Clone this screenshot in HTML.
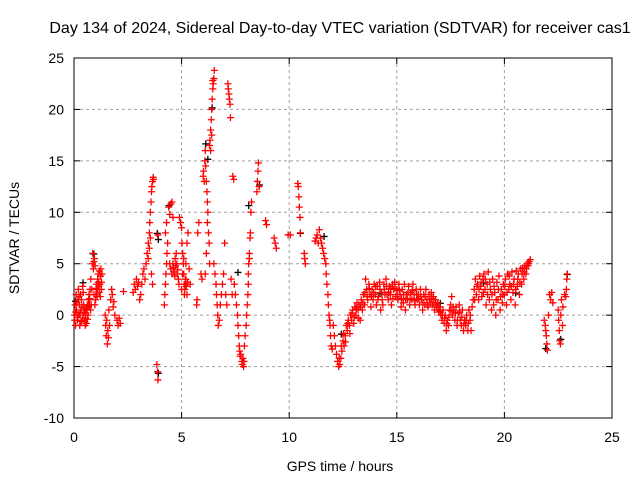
<!DOCTYPE html>
<html><head><meta charset="utf-8"><style>
body{margin:0;background:#fff;}
svg text{font-family:"Liberation Sans",sans-serif;font-size:14px;fill:#000;}
</style></head><body>
<svg id="chart" width="640" height="480">
<text x="340" y="33" text-anchor="middle" style="font-size:16px">Day 134 of 2024, Sidereal Day-to-day VTEC variation (SDTVAR) for receiver cas1</text>
<g id="grid"></g>
<g id="axes"></g>
<g id="marks"></g>
<text x="340" y="471" text-anchor="middle">GPS time / hours</text>
<text transform="translate(19,238) rotate(-90)" text-anchor="middle">SDTVAR / TECUs</text>
</svg>
<script>
const xTicks=[0,5,10,15,20,25];
const yTicks=[-10,-5,0,5,10,15,20,25];
// black series (reference receiver), few visible points
const blackPts=[[0.05,1.2],[0.9,5.8],[3.85,7.8],[3.9,7.2],[3.9,-5.8],[4.4,10.5],[6.1,16.5],[6.2,15],[6.4,20],[7.6,4],[8.1,10.5],[8.6,12.5],[10.5,7.8],[11.6,7.5],[12.4,-2],[14.2,2],[17,1],[19,3],[20.5,2],[21.9,-3.4],[22.6,-2.5],[22.9,3.8],[0.4,3]];
// red series: SDTVAR per epoch [hour, TECU]
const redPts=[
[0.02,0],[0.05,1],[0.07,-1],[0.1,2],[0.12,0.5],[0.15,-0.5],[0.18,1.5],[0.2,2.5],[0.22,0],[0.25,1],[0.27,-1],[0.3,2],[0.32,0.5],[0.35,1.5],[0.38,-0.5],[0.4,2.8],[0.42,0],[0.45,1],[0.48,-0.5],[0.5,0.5],[0.52,-1],[0.55,0.2],[0.58,-0.8],[0.6,0.5],[0.62,1],[0.65,0],[0.68,1.5],[0.7,2],[0.72,1],[0.75,2.5],[0.78,3.5],[0.8,1],[0.85,5],[0.87,6],[0.9,4.5],[0.92,5.2],[0.95,5.5],[0.98,4.8],[1.0,1.5],[1.02,2],[1.05,3],[1.08,2.5],[1.1,3.5],[1.12,4],[1.15,2.8],[1.18,4.3],[1.2,3],[1.22,1.8],[1.25,4.5],[1.28,3.2],[1.3,4],
[0.03,-0.5],[0.08,0.3],[0.13,1.2],[0.17,-0.2],[0.23,1.8],[0.28,0.2],[0.33,-0.6],[0.37,0.8],[0.43,2.2],[0.47,0.3],[0.53,-0.3],[0.57,0.6],[0.63,-0.4],[0.67,0.9],[0.73,1.6],[0.77,0.5],[0.83,2.5],[0.93,2],[0.97,1],[1.03,2.6],[1.07,1.8],[1.13,3.2],[1.17,2.2],[1.23,3.8],[1.27,2.5],
[1.45,0],[1.47,-1],[1.5,-2],[1.52,-0.5],[1.55,-2.8],[1.57,-1.5],[1.6,-2.2],[1.62,0.5],[1.65,-1],[1.7,1.5],[1.75,2.5],[1.78,2],[1.82,0.8],[1.85,1.3],[1.9,0],[2.0,-0.5],[2.05,-1],[2.1,-0.3],[2.15,-0.8],[2.3,2.3],
[2.75,2.2],[2.8,3],[2.85,2.5],[2.9,3.5],[2.95,2.8],[3.0,3.2],[3.05,1.5],[3.1,2],[3.15,3],[3.2,4],[3.25,4.5],[3.3,3.5],[3.35,5],[3.4,6],[3.45,7],[3.5,8],[3.52,9],[3.55,10],[3.58,11],[3.6,12],[3.62,12.5],[3.65,13],[3.68,13.4],[3.7,13.2],[3.45,5.5],[3.5,6.5],[3.55,7.5],[3.6,4],[3.65,3],[3.9,7.8],[3.85,-4.8],[3.88,-5.5],[3.9,-6.3],
[4.2,1],[4.22,2],[4.25,3],[4.27,4],[4.3,5],[4.32,6],[4.35,7],[4.25,8],[4.3,9],[4.4,10.5],[4.45,9.8],[4.5,10.8],[4.55,11],[4.6,9.5],[4.45,5],[4.5,4.5],[4.55,4],[4.6,5],[4.65,4.2],[4.7,5.5],[4.75,6],[4.8,4],[4.85,3.5],[4.9,9.5],[4.95,9],[5.0,8.5],[5.02,7],[5.05,6],[5.08,5],[5.1,4],[5.12,3],[5.15,2.5],[5.18,3.5],[5.2,5],[5.25,7],[5.3,8],[5.35,4.5],[5.4,3],[5.0,2.5],[5.05,4],[5.1,5.5],[5.2,3.5],[5.25,2],
[4.62,4.6],[4.68,3.8],[4.72,4.8],[4.78,5],[4.82,4.4],[4.88,3],[5.13,2],[5.17,3],[5.22,2.8],[5.28,3.2],
[5.7,1],[5.72,1.5],[5.75,8],[5.8,9],[5.9,4],[5.95,3.5],[6.0,13.5],[6.02,14],[6.05,13],[6.08,15],[6.1,16],[6.12,14.5],[6.15,13],[6.18,12],[6.2,11],[6.22,10],[6.25,8],[6.28,7],[6.3,5],[6.1,4],[6.15,6],[6.2,9],[6.3,16.5],[6.32,17],[6.35,18],[6.38,19],[6.4,20],[6.42,21],[6.45,22],[6.47,22.5],[6.5,23],[6.52,23.8],[6.45,22.8],[6.35,16],[6.4,17.5],
[6.5,5],[6.55,4],[6.6,3],[6.62,2],[6.65,1],[6.68,0],[6.7,-1],[6.75,-0.5],[6.8,1],[6.85,2],[6.9,3],[6.95,4],[7.0,7],[7.05,2],[7.1,1],[7.15,22.5],[7.17,22],[7.2,21.5],[7.22,21],[7.25,20.5],[7.27,19.2],[7.3,3.5],[7.35,2],[7.38,13.5],[7.42,13.2],[7.45,3],[7.5,2],[7.55,1],[7.6,0],[7.62,-1],[7.65,-2],[7.68,-3],[7.7,-3.5],[7.72,-4],[7.75,-3.8],[7.8,-4.5],[7.82,-4.8],[7.85,-4.2],[7.88,-5],[7.9,-4.5],[7.92,-3],[7.95,-2],[8.0,-1],[8.02,0],[8.05,1],[8.08,2],[8.1,4],[8.12,5],[8.15,6],[8.18,7.5],[8.2,8],[8.22,10],[8.25,11],[8.1,3],[8.15,5.5],
[8.5,12],[8.52,13],[8.55,14],[8.57,14.8],[8.6,12.5],[8.9,9.2],[8.95,8.8],[9.3,7.5],[9.35,7],[9.4,6.5],[9.95,7.8],[10.05,7.8],[10.4,12.8],[10.42,12.5],[10.45,11.5],[10.47,10.5],[10.5,9.5],[10.52,8],[10.7,6],[10.72,5.5],[10.75,5],
[11.2,7.2],[11.25,7.5],[11.3,7.8],[11.35,7],[11.4,8.3],[11.45,7.5],[11.5,7],[11.55,6.5],[11.6,6],[11.65,5.5],[11.7,5],[11.72,4],[11.75,3],[11.8,2],[11.82,1],[11.85,0],[11.88,-0.5],[11.9,-1],[11.92,-2],[11.95,-3],[12.0,-3.3],[12.05,-1],[12.1,-2],[12.15,-3],[12.2,-3.8],[12.25,-4.5],[12.3,-5],[12.35,-4.8],[12.4,-4.2],[12.45,-3.5],[12.5,-2.5],[12.55,-3],[12.6,-2],[12.65,-1],[12.7,-1.5],[12.75,-0.5],[12.8,-1],[12.85,0],[12.9,-0.5],[12.95,0.5],[13.0,-0.8],[13.05,0.8],[13.1,0],[13.15,1.2],[13.2,0.5],[13.25,1],[13.3,-0.5],[13.35,1.5],[13.4,0.5],[13.45,2],[13.5,1],[13.55,3.5],[13.6,2.5],[13.65,1.5],[13.7,3],[13.75,2],[13.8,0.8],[13.85,2.5],[13.9,1.5],[13.95,3],[14.0,2],[14.05,1],[14.1,2.8],[14.15,1.8],[14.2,3.2],[14.25,0.5],[14.3,2.2],[14.35,1],[14.4,3],[14.45,2],[14.5,3.5],[14.55,2],[14.6,1.5],[14.65,2.8],[14.7,2],[14.75,1],[14.8,3],[14.85,2.5],[14.9,3.2],[14.95,1.8],[15.0,2.5],[15.05,1.5],[15.1,3],[15.15,2],[15.2,0.8],[15.25,2.5],[15.3,1.2],[15.35,3],[15.4,0.5],[15.45,2],[15.5,1.5],[15.55,2.8],[15.6,1],[15.65,2.2],[15.7,1.5],[15.75,3],[15.8,2],[15.85,1],[15.9,2.5],[15.95,1.5],
[12.32,-4.2],[12.42,-3],[12.52,-1.8],[12.62,-2.6],[12.72,-0.8],[12.82,-1.8],[12.92,0.2],[13.02,-0.2],[13.12,0.6],[13.22,-0.3],[13.32,0.8],[13.42,1.2],[13.52,2.2],[13.62,1.8],[13.72,2.6],[13.82,1.8],[13.92,2.2],[14.02,2.8],[14.12,1.5],[14.22,2.5],[14.32,1.5],[14.42,2.5],[14.52,2.8],[14.62,2.2],[14.72,2.6],[14.82,1.6],[14.92,2.6],[15.02,2],[15.12,2.4],[15.22,1.6],[15.32,2],[15.42,1.5],[15.52,2.2],[15.62,1.6],[15.72,2.4],[15.82,1.4],[15.92,2],
[16.0,2],[16.05,1],[16.1,2.5],[16.15,1.5],[16.2,0.5],[16.25,2],[16.3,1],[16.35,2.5],[16.4,1.5],[16.45,0.8],[16.5,2],[16.55,1.2],[16.6,2.2],[16.65,1],[16.7,1.8],[16.75,0.5],[16.8,1.5],[16.85,0.8],[16.9,1.2],[16.95,0.3],[17.0,0.8],[17.05,0],[17.1,-0.5],[17.15,0.5],[17.2,-0.8],[17.25,0],[17.3,-1.5],[17.35,-0.5],[17.4,-1],[17.45,0.5],[17.5,1],[17.55,1.8],[17.6,0],[17.65,0.5],[17.7,-0.5],[17.75,0.8],[17.8,-1],[17.85,0.2],[17.9,1],[17.95,-0.5],[18.0,-1],[18.05,0.5],[18.1,-1.5],[18.15,-0.5],[18.2,-1],[18.25,0],[18.3,-1.5],[18.35,0.5],[18.4,-0.5],[18.45,-1.5],[18.5,0.8],[18.55,1.5],[18.6,2.5],[18.65,3.5],[18.7,2],[18.75,3],[18.8,1.5],[18.85,3.8],[18.9,2.8],[18.95,1.8],[19.0,3.5],[19.05,4],[19.1,2.5],[19.15,1],[19.2,3],[19.25,4.2],[19.3,1.5],[19.35,2.5],[19.4,0.5],[19.45,3.5],[19.5,1],[19.55,2.2],[19.6,0],[19.65,3.2],[19.7,1.5],[19.75,3.8],[19.8,0.5],[19.85,2.5],[19.9,1.2],[19.95,3],[20.0,2],[20.05,3.5],[20.1,1],[20.15,4],[20.2,2.5],[20.25,3],[20.3,1.5],[20.35,4.2],[20.4,2.2],[20.45,3.5],[20.5,1],[20.55,4.3],[20.6,2.8],[20.65,4],[20.7,2],[20.75,4.5],[20.8,3],[20.85,4.6],[20.9,3.5],[20.95,4.8],[21.0,4],[21.05,5],[21.1,4.8],[21.15,5.2],[21.2,5.4],
[16.02,1.6],[16.12,1.8],[16.22,1.2],[16.32,1.8],[16.42,1],[16.52,1.5],[16.62,1.6],[16.72,1.2],[16.82,1],[16.92,0.8],[17.02,0.4],[17.12,0],[17.22,-0.3],[17.32,-0.8],[17.42,-0.2],[17.52,0.4],[17.62,0.8],[17.72,0.2],[17.82,-0.5],[17.92,0.3],[18.02,-0.2],[18.12,-0.8],[18.22,-0.5],[18.32,-0.8],[18.42,0],[18.62,1.5],[18.72,2.8],[18.82,2.5],[18.92,3.2],[19.02,2.2],[19.12,3.5],[19.22,2],[19.32,3.2],[19.42,2],[19.52,2.8],[19.62,1.5],[19.72,2.5],[19.82,1.8],[19.92,2],[20.02,2.8],[20.12,2.2],[20.22,3.8],[20.32,2.8],[20.42,3],[20.52,2.5],[20.62,3.5],[20.72,3.2],[20.82,4],[20.92,4.2],[21.02,4.5],[21.12,5],
[21.85,-0.5],[21.9,-1],[21.92,-1.5],[21.95,-2],[21.97,-2.8],[22.0,-3.4],[22.05,0],[22.1,2],[22.15,1.5],[22.2,2.2],[22.25,1.2],[22.5,0.5],[22.52,-0.5],[22.55,-1.5],[22.57,-2.5],[22.6,-2.8],[22.62,0],[22.65,1.5],[22.7,-1],[22.72,0.8],[22.8,2],[22.85,1.8],[22.88,2.5],[22.9,3.5],[22.92,4]
];
const X0=74,X1=612,Y0=418,Y1=58,XMIN=0,XMAX=25,YMIN=-10,YMAX=25;
const sx=v=>X0+(v-XMIN)/(XMAX-XMIN)*(X1-X0);
const sy=v=>Y0-(v-YMIN)/(YMAX-YMIN)*(Y0-Y1);
const NS="http://www.w3.org/2000/svg";
function mk(tag,attrs,parent){const e=document.createElementNS(NS,tag);for(const k in attrs)e.setAttribute(k,attrs[k]);parent.appendChild(e);return e;}
const grid=document.getElementById('grid'),axes=document.getElementById('axes'),marks=document.getElementById('marks');
xTicks.forEach(t=>{const x=sx(t);
 if(t>XMIN&&t<XMAX){const g=mk('line',{x1:x,x2:x,y1:Y1,y2:Y0,stroke:'#a0a0a0','stroke-dasharray':'3,3'},grid);
 
 }
 mk('line',{x1:x,x2:x,y1:Y0,y2:Y0-6,stroke:'#000'},axes);mk('line',{x1:x,x2:x,y1:Y1,y2:Y1+6,stroke:'#000'},axes);
 const l=mk('text',{x:x,y:Y0+24,'text-anchor':'middle'},axes);l.textContent=t;
 
 });
yTicks.forEach(t=>{const y=sy(t);
 if(t>YMIN&&t<YMAX){const g=mk('line',{x1:X0,x2:X1,y1:y,y2:y,stroke:'#a0a0a0','stroke-dasharray':'3,3'},grid);
 
 }
 mk('line',{x1:X0,x2:X0+6,y1:y,y2:y,stroke:'#000'},axes);mk('line',{x1:X1,x2:X1-6,y1:y,y2:y,stroke:'#000'},axes);
 const l=mk('text',{x:X0-10,y:y+5,'text-anchor':'end'},axes);l.textContent=t;
 
 });
const frame=mk('rect',{x:X0,y:Y1,width:X1-X0,height:Y0-Y1,fill:'none',stroke:'#000'},axes);


function plus(p,color,name){const x=sx(p[0]),y=sy(p[1]);
 const e=mk('path',{d:`M${x-3.5},${y}h7M${x},${y-3.5}v7`,stroke:color,'stroke-width':1.3,fill:'none'},marks);
 
 }
blackPts.forEach(p=>plus([p[0]+0.02,p[1]+0.15],'#000','black-point'));
redPts.forEach(p=>plus(p,'#ff0000','red-point'));
</script>
</body></html>
